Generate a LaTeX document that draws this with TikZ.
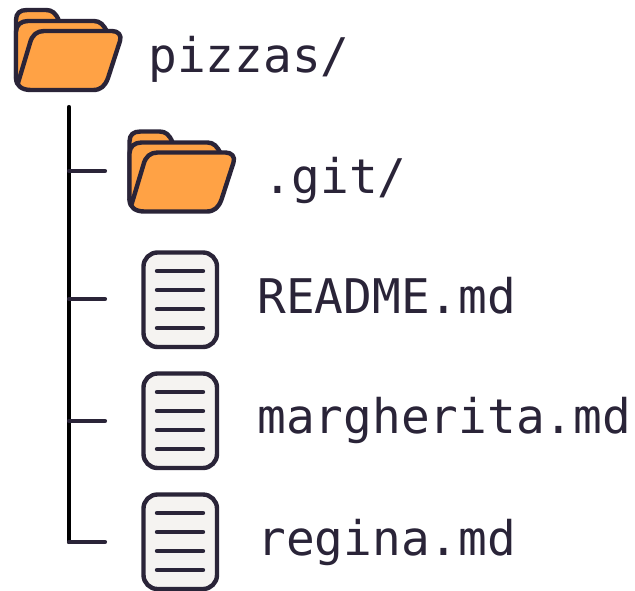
\documentclass[tikz,border=0pt]{standalone}
\usepackage{fontspec}
\setmonofont{DejaVu Sans Mono}
\definecolor{ink}{HTML}{2A2438}
\definecolor{folderfill}{HTML}{FFA245}
\definecolor{paperfill}{HTML}{F5F3F1}
\tikzset{
  px/.style={x=0.75pt,y=-0.75pt},
  iconline/.style={draw=ink,line width=3.3pt,line cap=round,line join=round},
  folderpart/.style={iconline,fill=folderfill},
  paper/.style={iconline,fill=paperfill},
  label/.style={anchor=base west,inner sep=0pt,outer sep=0pt,text=ink,font=\ttfamily\fontsize{35.8pt}{40pt}\selectfont},
  trunk/.style={draw=black,line width=3.1pt,line cap=round,line join=round},
  branch/.style={draw=ink,line width=3.1pt,line cap=round},
  folder/.pic={
    \path[folderpart] (16,78) -- (16,20) .. controls (16,13) and (20,10) .. (27,10) -- (46,10) .. controls (52,10) and (56,13) .. (59,21) -- (59,40) -- (30,60) -- cycle;
    \path[folderpart] (16,78) -- (16,32) .. controls (16,25) and (21,21) .. (28,21) -- (94,21) .. controls (100,21) and (104,25) .. (107,32) -- (107,50) -- (40,70) -- cycle;
    \path[folderpart] (18,83) -- (30,43) .. controls (32,35) and (37,31) .. (44,31) -- (112,31) .. controls (118,31) and (122,35) .. (120,41) -- (108,78) .. controls (105,86) and (101,90) .. (93,90) -- (31,90) .. controls (22,90) and (16,86) .. (16,78) -- cycle;
  },
  docicon/.pic={
    \path[paper,rounded corners=10.5pt] (143.5,252.5) rectangle (217,347);
    \foreach \yy in {271,290,309,328} \draw[iconline] (157,\yy) -- (203,\yy);
  }
}
\begin{document}
\begin{tikzpicture}[px]
\useasboundingbox (0,0) rectangle (635,590);
\fill[white] (0,0) rectangle (635,590);
\pic at (0,0) {folder};
\pic at (113.5,121.5) {folder};
\pic at (0,0) {docicon};
\pic at (0,121) {docicon};
\pic at (0,242) {docicon};
\node[label] (root) at (148.5,72) {pizzas/};
\node[label] (git) at (263,193) {.git/};
\node[label] (readme) at (257.5,313) {README.md};
\node[label] (marg) at (257.5,433) {margherita.md};
\node[label] (regina) at (257.5,555) {regina.md};
\coordinate (top) at (69,107);
\coordinate (j1) at (69,171);
\coordinate (j2) at (69,299);
\coordinate (j3) at (69,421);
\coordinate (corner) at (69,542);
\coordinate (e1) at (105,171);
\coordinate (e2) at (105,299);
\coordinate (e3) at (105,421);
\coordinate (e4) at (105,542);
\draw[trunk] (top) -- (corner);
\draw[branch] (j1) -- (e1);
\draw[branch] (j2) -- (e2);
\draw[branch] (j3) -- (e3);
\draw[branch] (corner) -- (e4);
\end{tikzpicture}
\end{document}
